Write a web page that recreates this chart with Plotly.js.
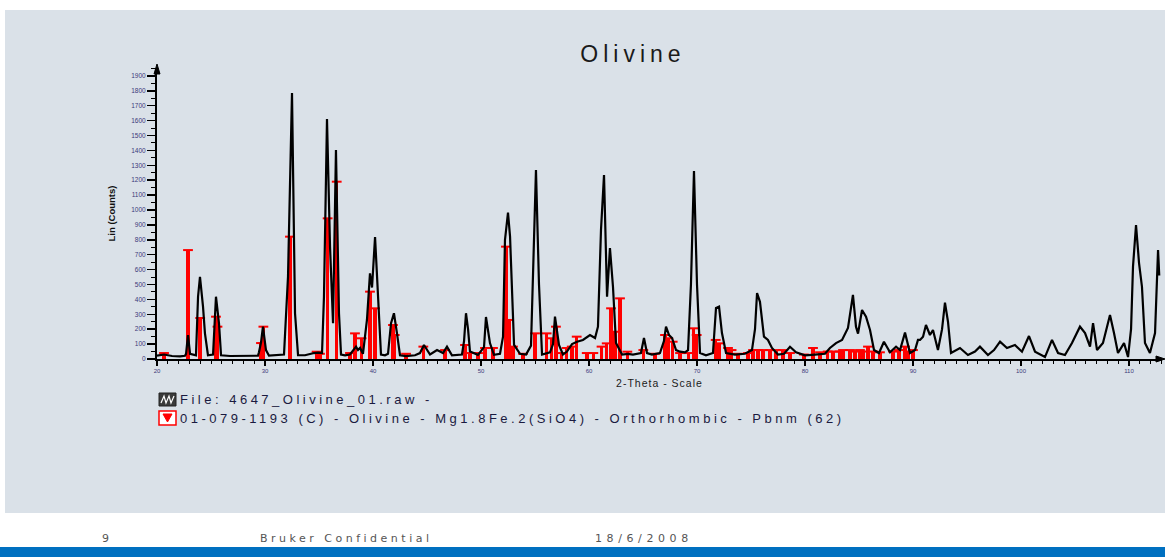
<!DOCTYPE html>
<html>
<head>
<meta charset="utf-8">
<script src="https://cdn.plot.ly/plotly-3.0.1.min.js"></script>
<style>
html,body{margin:0;padding:0;background:#ffffff;}
#chart{width:1165px;height:557px;}
</style>
</head>
<body>
<div id="chart"></div>
<script>
// ---- Measured pattern (black) ----
const scanTwoTheta = [20.00,20.28,20.65,21.39,22.13,22.59,22.69,22.87,23.06,23.61,23.80,23.98,24.26,24.44,24.72,25.19,25.46,25.74,25.93,26.76,27.69,28.61,29.35,29.44,29.63,29.81,30.09,30.37,31.39,31.76,32.13,32.50,32.78,33.06,33.70,34.17,34.54,34.91,35.28,35.46,35.74,36.02,36.30,36.57,36.85,37.04,37.41,37.87,38.43,38.61,38.80,39.07,39.44,39.72,39.91,40.19,40.46,40.74,41.11,41.39,41.67,41.94,42.22,42.50,43.06,43.89,44.35,44.72,45.28,45.93,46.48,46.85,47.31,48.24,48.43,48.61,48.80,48.98,49.72,50.28,50.46,50.65,50.83,51.20,51.76,52.04,52.22,52.50,52.69,52.78,53.06,53.61,54.17,54.63,54.81,55.09,55.37,55.65,56.39,56.67,56.85,57.04,57.22,57.59,57.96,58.43,58.89,59.44,59.91,60.09,60.56,60.83,61.11,61.39,61.67,61.94,62.22,62.50,63.06,63.61,64.07,64.81,65.09,65.37,65.83,66.57,66.94,67.13,67.41,67.69,68.06,68.43,68.89,69.17,69.44,69.72,70.00,70.28,70.83,71.48,71.76,72.04,72.31,72.69,73.52,74.44,75.09,75.37,75.56,75.83,76.20,76.57,76.94,77.50,78.06,78.61,79.17,80.00,80.93,81.85,82.31,82.87,83.43,83.98,84.44,84.72,84.91,85.28,85.65,86.02,86.39,86.85,87.31,87.87,88.43,88.80,89.26,89.72,90.19,90.46,90.65,90.93,91.20,91.57,91.85,92.31,92.69,92.96,93.24,93.52,94.35,95.09,95.74,96.20,96.94,97.50,98.06,98.70,99.44,100.09,100.74,101.30,102.22,102.87,103.43,104.07,104.72,105.19,105.46,105.93,106.39,106.67,107.04,107.59,108.24,108.61,108.98,109.54,109.91,110.19,110.37,110.65,110.93,111.20,111.48,111.94,112.41,112.69,112.80];
const scanCounts = [22,25,30,20,18,22,35,160,35,25,418,552,351,172,25,30,418,240,25,20,22,20,22,45,110,217,60,22,25,30,552,1785,307,25,25,35,40,43,40,418,1611,754,240,1403,307,30,25,30,83,60,74,35,262,575,480,819,463,30,25,35,240,307,172,25,20,25,40,94,30,60,40,83,25,30,120,307,200,50,28,80,282,200,107,28,35,150,799,982,821,644,94,35,30,90,530,1268,500,30,45,100,284,200,94,30,50,100,116,128,150,161,141,217,866,1235,418,745,485,107,30,35,30,40,141,40,30,40,120,217,160,141,60,49,45,60,500,1262,500,40,25,40,342,351,174,40,30,35,60,200,443,384,150,128,74,30,35,82,45,25,30,35,74,107,128,208,430,217,170,329,284,195,60,40,116,45,83,60,177,40,60,128,128,150,228,161,195,60,200,378,250,40,74,27,50,83,27,60,116,74,94,49,154,49,13,128,40,27,107,174,217,174,83,240,60,107,295,174,40,107,13,200,620,899,644,485,107,40,174,731,560];

// ---- Reference pattern 01-079-1193 (red sticks) ----
const refTwoTheta = [20.65,22.87,24.00,25.46,25.60,29.63,29.85,32.31,34.78,35.09,35.80,36.64,37.87,38.33,38.95,39.72,40.19,41.85,42.01,43.06,44.66,46.67,48.52,48.98,49.72,50.37,51.11,52.31,52.59,52.96,53.89,55.00,56.08,56.54,56.94,57.47,57.93,58.40,58.86,59.79,60.40,61.16,61.64,62.04,62.41,62.87,63.55,65.03,66.11,67.04,67.34,67.75,68.43,69.20,69.66,69.97,71.73,72.04,72.87,73.20,73.80,74.72,75.19,75.65,76.11,76.76,77.31,77.96,78.61,79.90,80.74,81.39,82.10,82.60,83.20,83.52,84.17,84.63,85.09,85.37,85.83,86.30,86.94,88.15,88.70,89.26,89.60,90.00];
const refIntensity = [40,731,275,284,217,107,217,821,49,35,944,1190,40,172,139,452,340,228,161,35,83,60,94,40,40,74,74,754,262,83,35,172,172,139,217,40,74,83,150,40,40,83,105,340,183,407,49,60,35,161,139,116,40,40,206,161,128,105,74,60,35,40,60,60,60,60,60,60,40,30,74,45,50,50,50,60,60,50,60,50,83,50,45,50,60,83,50,60];

// ---- Text ----
const chartTitle = "Olivine";
const xTitle = "2-Theta - Scale";
const yTitle = "Lin (Counts)";
const legendScan = "File: 4647_Olivine_01.raw -";
const legendRef = "01-079-1193 (C) - Olivine - Mg1.8Fe.2(SiO4) - Orthorhombic - Pbnm (62)";
const footerPage = "9";
const footerConf = "Bruker Confidential";
const footerDate = "18/6/2008";

// pixel -> paper helpers (plot area: x 157..1162, y 68..359)
const L = 157, R = 1162, T = 68, B = 359;
const px = x => (x - L) / (R - L);
const py = y => (B - y) / (B - T);

const traces = [
  {
    type: 'bar', x: refTwoTheta, y: refIntensity, width: 0.33,
    marker: {color: '#ff0000', line: {width: 0}}, showlegend: false, hoverinfo: 'x+y'
  },
  {
    type: 'scatter', mode: 'markers', x: refTwoTheta, y: refIntensity,
    marker: {symbol: 'line-ew', size: 7, line: {color: '#ff0000', width: 2}},
    showlegend: false, hoverinfo: 'skip'
  },
  {
    type: 'scatter', mode: 'lines', x: scanTwoTheta, y: scanCounts,
    line: {color: '#000000', width: 2.2}, showlegend: false
  }
];

const sp = (t, s) => '<span style="letter-spacing:' + s + 'px">' + t + '</span>';

const layout = {
  width: 1165, height: 557,
  margin: {l: L, r: 1165 - R, t: T, b: 557 - B, pad: 0},
  paper_bgcolor: '#ffffff',
  plot_bgcolor: 'rgba(0,0,0,0)',
  bargap: 0,
  font: {family: 'Liberation Sans, Arial, sans-serif', color: '#1a1a40'},
  title: {
    text: sp(chartTitle, 5),
    font: {size: 23, color: '#1a1a1a', family: 'Liberation Sans, Arial, sans-serif'},
    x: 633 / 1165, xanchor: 'center', xref: 'container',
    y: 1 - 54 / 557, yanchor: 'middle', yref: 'container'
  },
  xaxis: {
    range: [20, 20 + (R - L) / 10.8],
    tick0: 20, dtick: 10,
    ticks: 'outside', ticklen: 5, tickwidth: 1.5, tickcolor: '#000',
    minor: {dtick: 1, ticks: 'outside', ticklen: 3, tickwidth: 1, tickcolor: '#000'},
    showline: true, linecolor: '#000', linewidth: 2,
    showgrid: false, zeroline: false,
    tickfont: {size: 6, color: '#3a3a7a'},
    title: {text: sp(xTitle, 1), font: {size: 10.5, color: '#1a1a1a'}, standoff: 6},
    fixedrange: true
  },
  yaxis: {
    range: [0, (B - T) / 14.9 * 100],
    tick0: 0, dtick: 100,
    ticks: 'outside', ticklen: 8, tickwidth: 1.5, tickcolor: '#000',
    minor: {dtick: 50, ticks: 'outside', ticklen: 4, tickwidth: 1, tickcolor: '#000'},
    showline: true, linecolor: '#000', linewidth: 2,
    showgrid: false, zeroline: false,
    tickfont: {size: 6.5, color: '#3a3a7a'},
    title: {text: '<b>' + yTitle + '</b>', font: {size: 9.5, color: '#111'}, standoff: 14},
    fixedrange: true
  },
  shapes: [
    // grey slide panel
    {type: 'rect', xref: 'paper', yref: 'paper', x0: px(5), x1: px(1166), y0: py(513), y1: py(10),
     fillcolor: '#dae1e8', line: {width: 0}, layer: 'below'},
    // blue bottom bar
    {type: 'rect', xref: 'paper', yref: 'paper', x0: px(-2), x1: px(1167), y0: py(560), y1: py(547),
     fillcolor: '#0070c0', line: {width: 0}, layer: 'below'},
    // axis arrow heads
    {type: 'path', xref: 'paper', yref: 'paper',
     path: 'M ' + px(154) + ' ' + py(74) + ' L ' + px(157) + ' ' + py(64) + ' L ' + px(160) + ' ' + py(74) + ' Z',
     fillcolor: '#000', line: {color: '#000', width: 1}},
    {type: 'path', xref: 'paper', yref: 'paper',
     path: 'M ' + px(1156) + ' ' + py(356) + ' L ' + px(1165) + ' ' + py(359) + ' L ' + px(1156) + ' ' + py(362) + ' Z',
     fillcolor: '#000', line: {color: '#000', width: 1}},
    // legend icon 1 (scan)
    {type: 'rect', xref: 'paper', yref: 'paper', x0: px(159), x1: px(176), y0: py(406), y1: py(393),
     fillcolor: '#3a3a3a', line: {color: '#222', width: 1}},
    {type: 'path', xref: 'paper', yref: 'paper',
     path: 'M ' + px(161) + ' ' + py(403) + ' L ' + px(164) + ' ' + py(396) + ' L ' + px(166) + ' ' + py(403) +
           ' L ' + px(169) + ' ' + py(396) + ' L ' + px(171) + ' ' + py(403) + ' L ' + px(174) + ' ' + py(396),
     line: {color: '#ffffff', width: 1.2}},
    // legend icon 2 (reference)
    {type: 'rect', xref: 'paper', yref: 'paper', x0: px(159), x1: px(176), y0: py(425), y1: py(411),
     fillcolor: '#ffffff', line: {color: '#ff0000', width: 1.5}},
    {type: 'path', xref: 'paper', yref: 'paper',
     path: 'M ' + px(163) + ' ' + py(414) + ' L ' + px(172) + ' ' + py(414) + ' L ' + px(167.5) + ' ' + py(422) + ' Z',
     fillcolor: '#ff0000', line: {color: '#ff0000', width: 1}}
  ],
  annotations: [
    {xref: 'paper', yref: 'paper', x: px(178), y: py(399.5), xanchor: 'left', yanchor: 'middle', showarrow: false,
     text: sp(legendScan, 3.5), font: {size: 13, color: '#1a1a40'}},
    {xref: 'paper', yref: 'paper', x: px(178), y: py(418.5), xanchor: 'left', yanchor: 'middle', showarrow: false,
     text: sp(legendRef, 3.5), font: {size: 13, color: '#1a1a40'}},
    {xref: 'paper', yref: 'paper', x: px(100), y: py(538), xanchor: 'left', yanchor: 'middle', showarrow: false,
     text: footerPage, font: {size: 11, color: '#555', family: 'DejaVu Sans, sans-serif'}},
    {xref: 'paper', yref: 'paper', x: px(258), y: py(538), xanchor: 'left', yanchor: 'middle', showarrow: false,
     text: sp(footerConf, 3.5), font: {size: 11, color: '#555', family: 'DejaVu Sans, sans-serif'}},
    {xref: 'paper', yref: 'paper', x: px(593), y: py(538), xanchor: 'left', yanchor: 'middle', showarrow: false,
     text: sp(footerDate, 4.6), font: {size: 11, color: '#555', family: 'DejaVu Sans, sans-serif'}}
  ]
};

Plotly.newPlot('chart', traces, layout, {displayModeBar: false, staticPlot: true});
</script>
</body>
</html>
